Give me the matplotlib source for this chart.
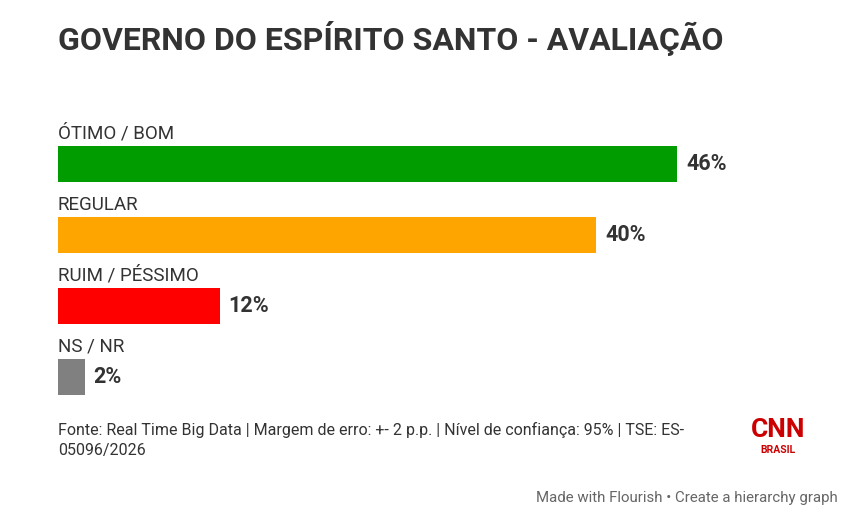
import matplotlib
matplotlib.use("Agg")
import matplotlib.pyplot as plt

# data
categories = ["ÓTIMO / BOM", "REGULAR", "RUIM / PÉSSIMO", "NS / NR"]
values = [46, 40, 12, 2]
colors = ["#009c00", "#ffa500", "#ff0000", "#808080"]

title = "GOVERNO DO ESPÍRITO SANTO - AVALIAÇÃO"
source = "Fonte: Real Time Big Data | Margem de erro: +- 2 p.p. | Nível de confiança: 95% | TSE: ES-\n05096/2026"
credit = "Made with Flourish • Create a hierarchy graph"

plt.rcParams["font.family"] = ["Roboto", "DejaVu Sans"]

W, H = 867, 527
fig = plt.figure(figsize=(W / 100, H / 100), dpi=100)

# axes: x 0..60 over pixel 58 .. 58+60*13.46, rows centred at 164 .. 377
px_per = 13.46
left = 58
top = 164 - 35.5
bottom = 377 + 35.5
ax = fig.add_axes([left / W, 1 - bottom / H, 60 * px_per / W, (bottom - top) / H])
ax.set_xlim(0, 60)
ax.set_ylim(3.5, -0.5)
ax.axis("off")

ypos = list(range(len(categories)))
ax.barh(ypos, values, height=0.507, color=colors, edgecolor="none")
for y, cat, v in zip(ypos, categories, values):
    ax.text(0, y - 0.3, cat, ha="left", va="bottom", fontsize=13.5, color="#333333")
    ax.text(v + 0.65, y, f"{v}%", ha="left", va="center", fontsize=15.5,
            fontweight="bold", color="#333333")

fig.text(58 / W, 1 - 38 / H, title, ha="left", va="center", fontsize=23,
         fontweight="bold", color="#333333")
fig.text(58 / W, 1 - 440 / H, source, ha="left", va="center", fontsize=11.5,
         color="#333333", linespacing=1.45)
fig.text(838 / W, 1 - 498 / H, credit, ha="right", va="center", fontsize=10.8,
         color="#666666")

# CNN Brasil logo
fig.text(778 / W, 1 - 430 / H, "CNN", ha="center", va="center", fontsize=19,
         fontweight="bold", color="#cc0000")
fig.text(778 / W, 1 - 450 / H, "BRASIL", ha="center", va="center", fontsize=7.5,
         fontweight="bold", color="#cc0000")

fig.savefig("out.png", dpi=100)
